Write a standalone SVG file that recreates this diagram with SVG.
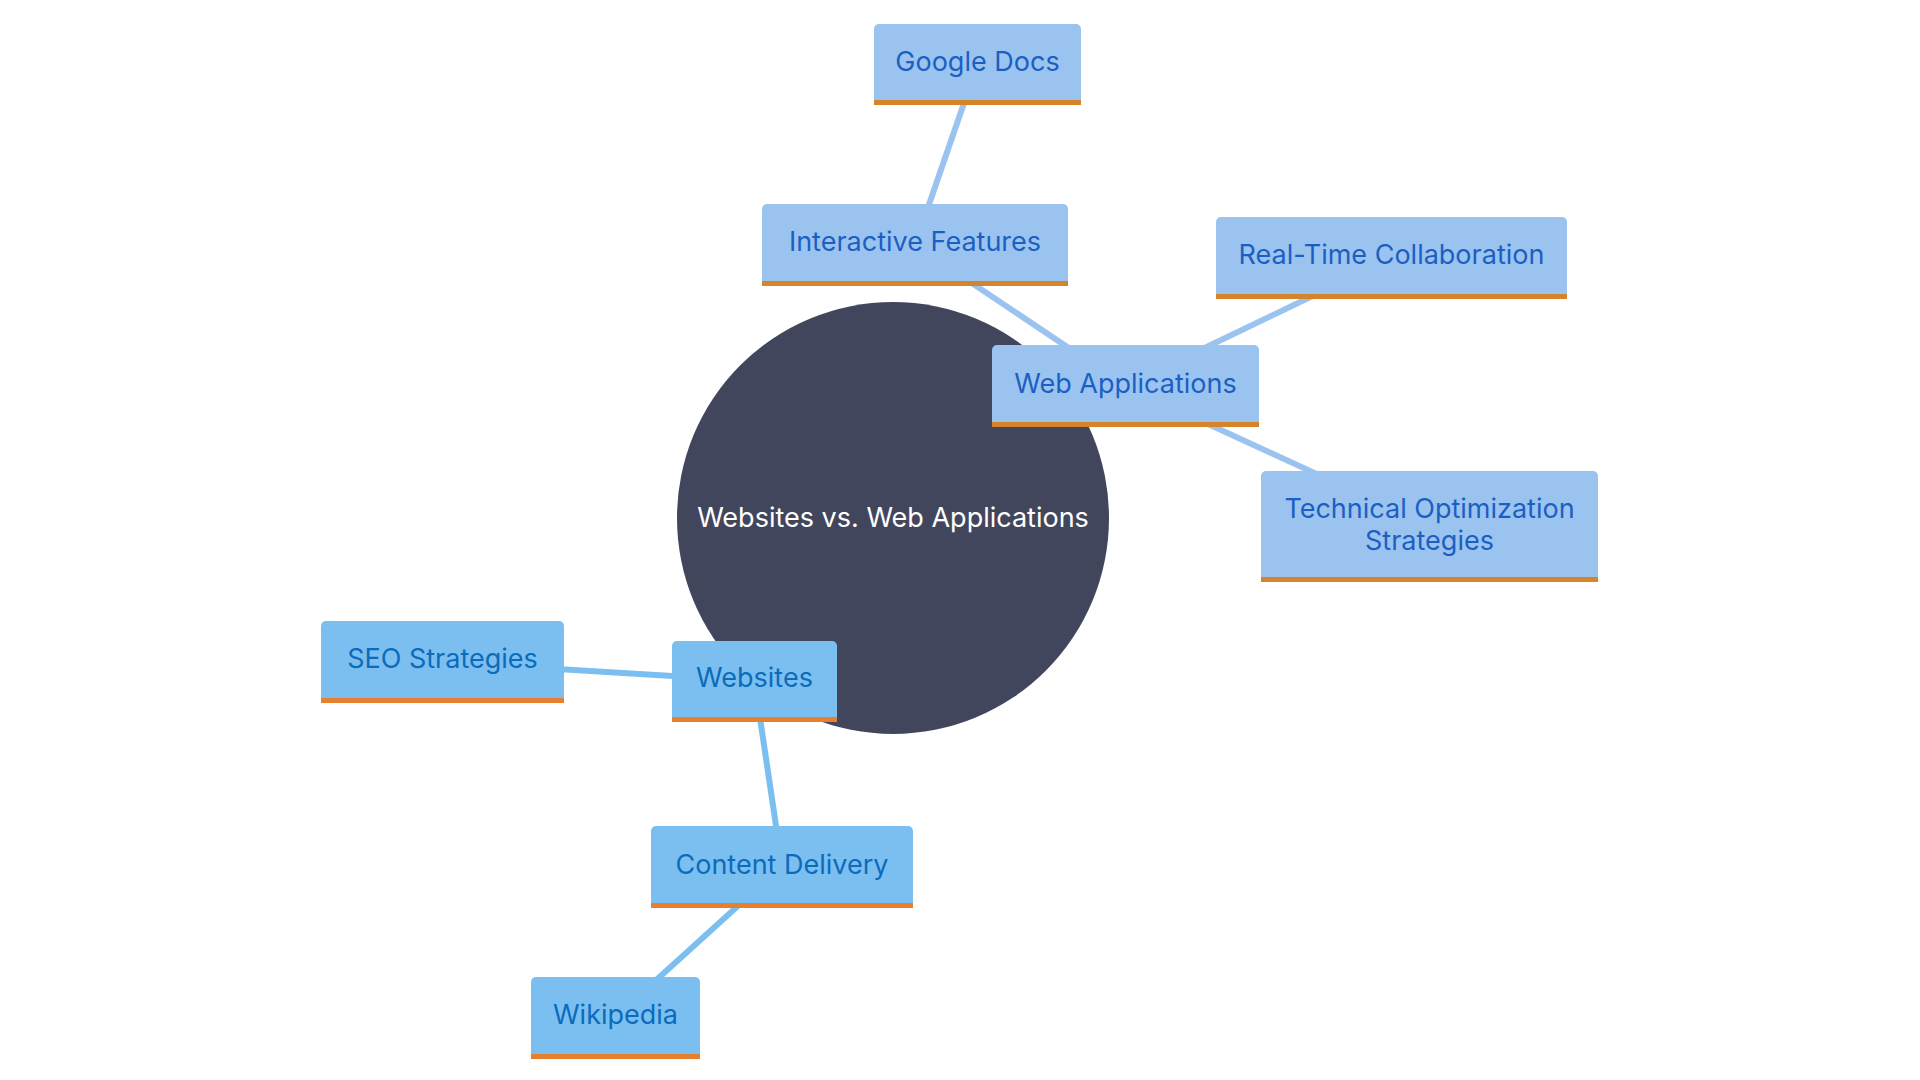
<svg xmlns="http://www.w3.org/2000/svg" width="1920" height="1080" viewBox="0 0 1920 1080">
<style>
text{font-family:Inter,"Noto Sans","Liberation Sans",sans-serif;font-size:27px;text-anchor:middle}
.r rect.b{fill:#9BC3EF}.r rect.o{fill:#D6842A}.r text{fill:#1B5FC3}
.l rect.b{fill:#7BBFF1}.l rect.o{fill:#E6802F}.l text{fill:#0C6BBA}
.cr{stroke:#9BC3EF;stroke-width:6;fill:none}
.cl{stroke:#7BBFF1;stroke-width:6;fill:none}
.root{fill:#41465D}
.rt{fill:#FFFFFF}
</style>
<rect width="1920" height="1080" fill="#FFFFFF"/>
<g id="root">
<circle class="root" cx="893" cy="518" r="216"/>
<text class="rt" x="893" y="527">Websites vs. Web Applications</text>
</g>
<g id="connectors">
<line class="cr" x1="977.5" y1="64" x2="915" y2="245"/>
<line class="cr" x1="915" y1="245" x2="1125.5" y2="386"/>
<line class="cr" x1="1125.5" y1="386" x2="1391.5" y2="258"/>
<line class="cr" x1="1125.5" y1="386" x2="1429.5" y2="526"/>
<line class="cl" x1="754.5" y1="681" x2="442.5" y2="662"/>
<line class="cl" x1="754.5" y1="681" x2="782" y2="866"/>
<line class="cl" x1="782" y1="866" x2="615.5" y2="1017"/>
</g>
<g id="google-docs" class="r">
<rect class="b" x="874" y="24" width="207" height="81" rx="5"/>
<rect class="o" x="874" y="100" width="207" height="5"/>
<text x="977.5" y="71">Google Docs</text>
</g>
<g id="interactive-features" class="r">
<rect class="b" x="762" y="204" width="306" height="82" rx="5"/>
<rect class="o" x="762" y="281" width="306" height="5"/>
<text x="915" y="251">Interactive Features</text>
</g>
<g id="real-time-collaboration" class="r">
<rect class="b" x="1216" y="217" width="351" height="82" rx="5"/>
<rect class="o" x="1216" y="294" width="351" height="5"/>
<text x="1391.5" y="264">Real-Time Collaboration</text>
</g>
<g id="web-applications" class="r">
<rect class="b" x="992" y="345" width="267" height="82" rx="5"/>
<rect class="o" x="992" y="422" width="267" height="5"/>
<text x="1125.5" y="393">Web Applications</text>
</g>
<g id="technical-optimization" class="r">
<rect class="b" x="1261" y="471" width="337" height="111" rx="5"/>
<rect class="o" x="1261" y="577" width="337" height="5"/>
<text x="1429.5" y="518">Technical Optimization</text>
<text x="1429.5" y="550">Strategies</text>
</g>
<g id="seo-strategies" class="l">
<rect class="b" x="321" y="621" width="243" height="82" rx="5"/>
<rect class="o" x="321" y="698" width="243" height="5"/>
<text x="442.5" y="668">SEO Strategies</text>
</g>
<g id="websites" class="l">
<rect class="b" x="672" y="641" width="165" height="81" rx="5"/>
<rect class="o" x="672" y="717" width="165" height="5"/>
<text x="754.5" y="687">Websites</text>
</g>
<g id="content-delivery" class="l">
<rect class="b" x="651" y="826" width="262" height="82" rx="5"/>
<rect class="o" x="651" y="903" width="262" height="5"/>
<text x="782" y="874">Content Delivery</text>
</g>
<g id="wikipedia" class="l">
<rect class="b" x="531" y="977" width="169" height="82" rx="5"/>
<rect class="o" x="531" y="1054" width="169" height="5"/>
<text x="615.5" y="1024">Wikipedia</text>
</g>
</svg>
